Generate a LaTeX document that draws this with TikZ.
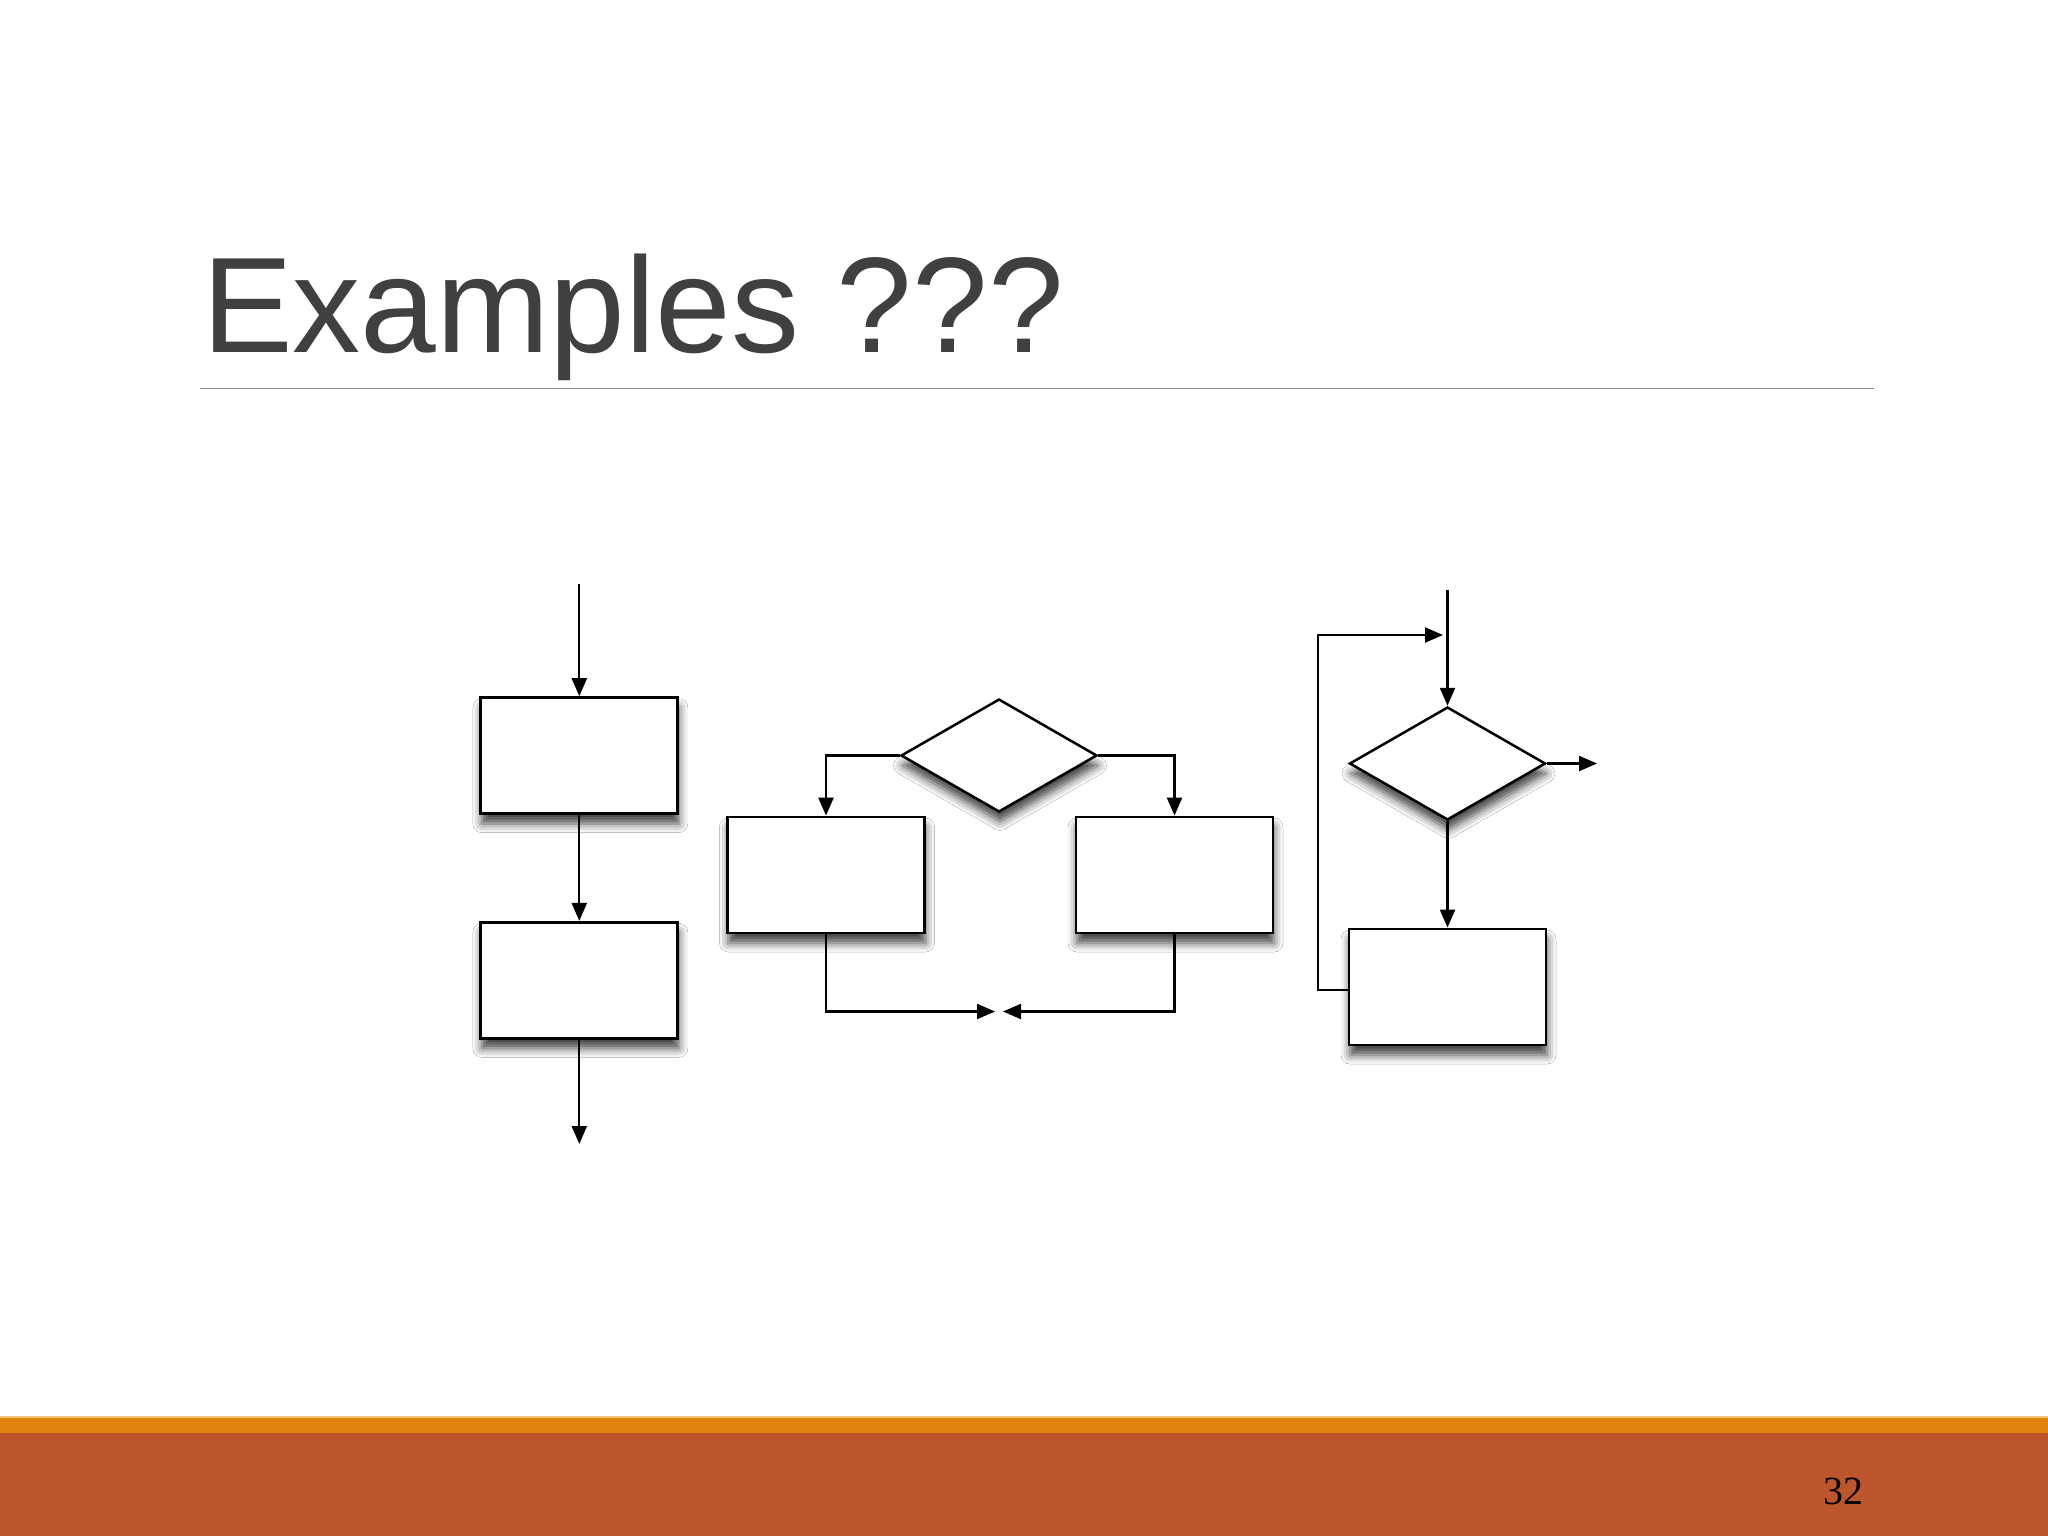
\documentclass[tikz,border=0pt]{standalone}
\usepackage{fontspec}
\setmainfont{Liberation Sans}
\newfontfamily\numfont{Liberation Serif}
\usetikzlibrary{arrows.meta,shapes.geometric,shadows.blur}
\definecolor{titlegray}{HTML}{404040}
\definecolor{rulegray}{HTML}{8E8E8E}
\definecolor{bandorange}{HTML}{E2820F}
\definecolor{bandlight}{HTML}{F6C77A}
\definecolor{rust}{HTML}{BE562D}
\begin{document}
\begin{tikzpicture}[x=1pt,y=-1pt,
  shade/.style={blur shadow={shadow xshift=1pt, shadow yshift=-10pt, shadow blur radius=9pt, shadow opacity=75}},
  box/.style={draw=black, line width=2.8pt, fill=white, minimum width=197pt, minimum height=116pt, inner sep=0pt, shade},
  dia/.style={diamond, draw=black, line width=2.5pt, fill=white, minimum width=196pt, minimum height=113pt, inner sep=0pt, shade},
  arr/.style={line width=2.3pt, -{Triangle[length=18pt,width=15pt]}}]
\useasboundingbox (0,0) rectangle (2048,1536);
\fill[white] (0,0) rectangle (2048,1536);
% title
\node[anchor=base west, inner sep=0pt, text=titlegray, font=\fontsize{136}{136}\selectfont] (title) at (202,352) {Examples ???};
\draw[rulegray, line width=1.5pt] (200,388.5) -- (1874,388.5);
% footer
\fill[bandlight] (0,1415.5) rectangle (2048,1418);
\fill[bandorange] (0,1418) rectangle (2048,1433);
\fill[rust] (0,1433) rectangle (2048,1536);
\node[anchor=base, inner sep=0pt, font=\numfont\fontsize{40}{40}\selectfont] (num) at (1843,1504) {32};
% column 1: sequence
\coordinate (a0) at (579.3,584);
\node[box] (a1) at (579.3,755.6) {};
\node[box] (a2) at (579.3,980.3) {};
\coordinate (a3) at (579.3,1144);
\draw[arr] (a0) -- (a1.north);
\draw[arr] (a1.south) -- (a2.north);
\draw[arr] (a2.south) -- (a3);
% column 2: selection
\node[dia] (d) at (999,755.5) {};
\node[box] (b1) at (826,875) {};
\node[box] (b2) at (1174.5,875) {};
\draw[arr] (d.west) -| (b1.north);
\draw[arr] (d.east) -| (b2.north);
\coordinate (m1) at (995,1011.5);
\coordinate (m2) at (1003,1011.5);
\draw[arr] (b1.south) |- (m1);
\draw[arr] (b2.south) |- (m2);
% column 3: loop
\coordinate (c0) at (1447.5,590);
\node[dia] (e) at (1447.5,763.5) {};
\node[box] (c) at (1447.5,987) {};
\coordinate (cx) at (1597,763.5);
\coordinate (lp) at (1443,635);
\coordinate (lc) at (1318,635);
\draw[arr] (c0) -- (e.north);
\draw[arr] (e.east) -- (cx);
\draw[arr] (e.south) -- (c.north);
\draw[arr] ([yshift=-3pt]c.west) -| (lc) -- (lp);
\end{tikzpicture}
\end{document}
